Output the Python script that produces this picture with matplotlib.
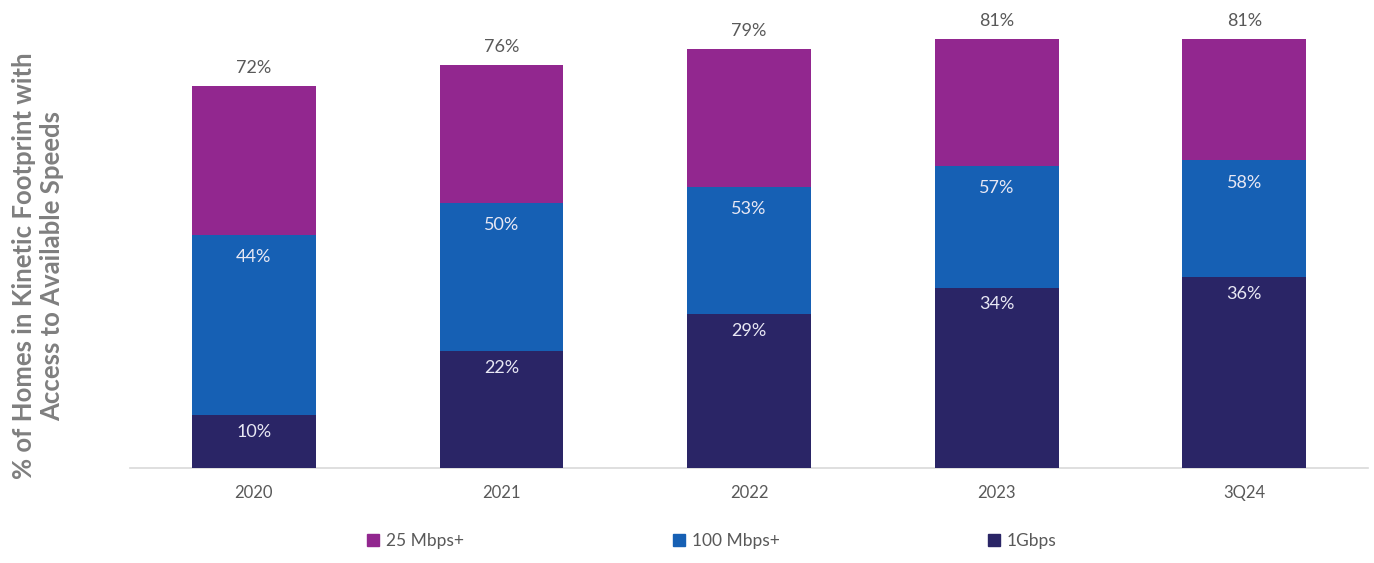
import matplotlib
matplotlib.use("Agg")
import matplotlib.pyplot as plt
from matplotlib.patches import Patch

plt.rcParams['font.family'] = ['Lato', 'DejaVu Sans']

# 가용 속도별 접근 가능 가구 비율 (%)
periods = ['2020', '2021', '2022', '2023', '3Q24']
mbps25 = [72, 76, 79, 81, 81]
mbps100 = [44, 50, 53, 57, 58]
gbps1 = [10, 22, 29, 34, 36]

c25 = '#92278F'
c100 = '#1660B4'
c1g = '#2A2566'
grey = '#595959'

fig = plt.figure(figsize=(13.74, 5.63), dpi=100)
ax = fig.add_axes([130 / 1374, 95 / 563, 1238 / 1374, 448 / 563])

x = range(len(periods))
w = 0.5
# 누적 값이므로 막대를 겹쳐 그림 (큰 값부터)
ax.bar(x, mbps25, width=w, color=c25, zorder=1)
ax.bar(x, mbps100, width=w, color=c100, zorder=2)
ax.bar(x, gbps1, width=w, color=c1g, zorder=3)

for i in x:
    ax.annotate(f'{mbps25[i]}%', (i, mbps25[i]), xytext=(0, 13), textcoords='offset points',
                ha='center', va='center', fontsize=13, color=grey)
    ax.annotate(f'{mbps100[i]}%', (i, mbps100[i]), xytext=(0, -16), textcoords='offset points',
                ha='center', va='center', fontsize=13, color='#e8e8f4', zorder=5)
    ax.annotate(f'{gbps1[i]}%', (i, gbps1[i]), xytext=(0, -12), textcoords='offset points',
                ha='center', va='center', fontsize=13, color='#e8e8f4', zorder=5)

ax.set_xlim(-0.5, len(periods) - 0.5)
ax.set_ylim(0, 84.5)
ax.set_xticks(list(x))
ax.set_xticklabels(periods, fontsize=12, color=grey)
ax.tick_params(axis='x', length=0, pad=12)
ax.set_yticks([])
for s in ['top', 'right', 'left']:
    ax.spines[s].set_visible(False)
ax.spines['bottom'].set_color('#d9d9d9')
ax.spines['bottom'].set_linewidth(1.2)

fig.text(38 / 1374, 1 - 266 / 563, '% of Homes in Kinetic Footprint with\nAccess to Available Speeds',
         rotation=90, ha='center', va='center', fontsize=18.5, fontweight='bold',
         color='#7f7f7f', linespacing=1.2)

handles = [Patch(color=c25, label='25 Mbps+'),
           Patch(color=c100, label='100 Mbps+'),
           Patch(color=c1g, label='1Gbps')]
fig.legend(handles=handles, loc='center', bbox_to_anchor=(712 / 1374, 1 - 541 / 563), ncol=3,
           frameon=False, fontsize=12.5, labelcolor=grey, handlelength=0.7, handleheight=0.7,
           handletextpad=0.4, columnspacing=12)

fig.savefig('out.png', dpi=100)
